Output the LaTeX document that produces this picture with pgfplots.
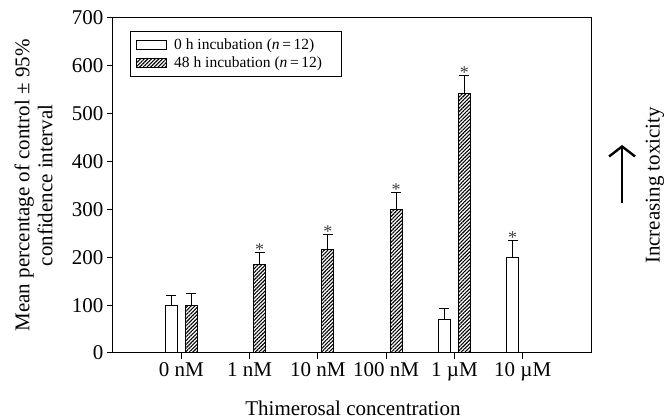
\documentclass[border=0pt]{standalone}
\usepackage{fontspec}
\setmainfont{Liberation Serif}
\usepackage{pgfplots}
\pgfplotsset{compat=1.18}
\usetikzlibrary{patterns.meta,arrows.meta}

\begin{document}
\begin{tikzpicture}
\begin{axis}[
  name=ax,
  scale only axis,
  width=478pt, height=335pt,
  xmin=-1, xmax=6, ymin=0, ymax=700,
  xtick={0,...,5},
  xticklabels={0 nM, 1 nM, 10 nM, 100 nM, 1 µM, 10 µM},
  ytick={0,100,...,700},
  tick pos=left, tick align=outside,
  major tick length=6pt,
  axis line style={line width=1pt},
  every tick/.style={black, line width=1pt},
  tick label style={font=\fontsize{21}{23}\selectfont},
  /pgf/number format/assume math mode=true,
  xlabel={Thimerosal concentration},
  ylabel={Mean percentage of control ± 95\%\\confidence interval},
  every axis x label/.style={at={(rel axis cs:0.502,-0.188)}, anchor=base,
    font=\fontsize{21}{23}\selectfont},
  every axis y label/.style={at={(rel axis cs:-0.166,0.50)}, anchor=center,
    rotate=90, align=center, font=\fontsize{21}{23}\selectfont},
  clip=false,
  legend style={at={(rel axis cs:0.0356,0.961)}, anchor=north west,
    draw=black, line width=0.8pt, font=\fontsize{15.5}{18}\selectfont,
    cells={anchor=west}, nodes={inner ysep=2pt, inner xsep=3pt},
    inner xsep=6pt, inner ysep=5pt, row sep=2pt, column sep=4pt},
  legend image code/.code={\draw[#1, line width=0.8pt] (0pt,-4.5pt) rectangle (30pt,4.5pt);},
]
% 0 h incubation (bars sit 10pt left of the tick)
\addplot[ybar, bar width=12pt, bar shift=0pt, draw=black, fill=white, line width=1pt,
  error bars/.cd, y dir=plus, y explicit,
  error bar style={draw=black, line width=1pt},
  error mark options={rotate=90, mark size=5pt, line width=1pt}]
  coordinates {
  (-0.146,100) +- (0,20)
  (3.854,71)   +- (0,21)
  (4.854,200)  +- (0,36)
};
\addlegendentry{\makebox[158pt][l]{0 h incubation (\textit{n}\,=\,12)}}
% 48 h incubation (bars sit 10pt right of the tick)
\addplot[ybar, bar width=12pt, bar shift=0pt, draw=black, line width=1pt,
  pattern={Lines[angle=45,distance=2.6pt,line width=1.1pt]},
  error bars/.cd, y dir=plus, y explicit,
  error bar style={draw=black, line width=1pt},
  error mark options={rotate=90, mark size=5pt, line width=1pt}]
  coordinates {
  (0.146,100) +- (0,24)
  (1.146,185) +- (0,26)
  (2.146,217) +- (0,31)
  (3.146,300) +- (0,35)
  (4.146,542) +- (0,38)
};
\addlegendentry{\makebox[158pt][l]{48 h incubation (\textit{n}\,=\,12)}}
% significance marks
\addplot[draw=none, mark=none, forget plot, nodes near coords={*},
  every node near coord/.style={anchor=base, inner sep=0pt, yshift=-3pt,
    font=\fontsize{18}{20}\selectfont, black!75}]
  coordinates {
  (1.146,211) (2.146,248) (3.146,335) (4.146,580) (4.854,236)
};
\draw[line width=2pt, -{Straight Barb[length=10pt,width=26pt,line width=2.4pt]}]
  (rel axis cs:1.065,0.448) -- (rel axis cs:1.065,0.621);
\node[rotate=90, font=\fontsize{21}{23}\selectfont] at (rel axis cs:1.134,0.50) {Increasing toxicity};
\end{axis}
\pgfresetboundingbox
\path ([xshift=-113pt,yshift=-67pt]ax.south west) rectangle ([xshift=78pt,yshift=18pt]ax.north east);
\end{tikzpicture}
\end{document}
